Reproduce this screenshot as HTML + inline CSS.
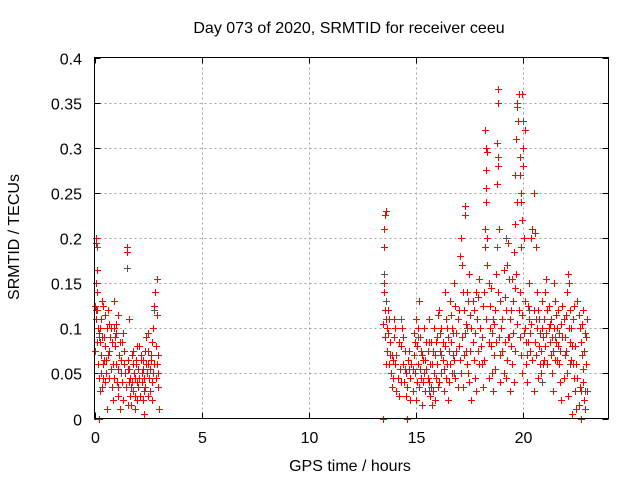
<!DOCTYPE html>
<html><head><meta charset="utf-8"><style>
html,body{margin:0;padding:0;background:#fff}
svg{display:block;font-family:"Liberation Sans",sans-serif}
</style></head><body>
<svg id="chart" width="640" height="480" viewBox="0 0 640 480">
<text x="349" y="33" text-anchor="middle" font-size="16">Day 073 of 2020, SRMTID for receiver ceeu</text>
<text x="0" y="0" transform="translate(19,237) rotate(-90)" text-anchor="middle" font-size="16">SRMTID / TECUs</text>
<text x="350" y="471" text-anchor="middle" font-size="16">GPS time / hours</text>
<g id="grid"></g><g id="axes"></g><g id="grey"></g><g id="red"></g>
<rect x="94.5" y="57.5" width="514" height="361" fill="none" stroke="#000" stroke-width="1"/>
</svg>
<script>
const xTicks=[0,5,10,15,20];
const yTicks=[0,0.05,0.1,0.15,0.2,0.25,0.3,0.35,0.4];
const yTickLabels=["0","0.05","0.1","0.15","0.2","0.25","0.3","0.35","0.4"];
const greyPoints=[[0.1,0.19],[0.05,0.12],[0.2,0.09],[1.5,0.167],[2.8,0.12],[13.5,0.16],[13.6,0.13],[14.3,0.11],[15.1,0.09],[16.2,0.07],[17.4,0.1],[18.25,0.32],[18.8,0.19],[19.2,0.2],[19.7,0.31],[20.0,0.33],[20.0,0.28],[20.3,0.12],[20.9,0.04],[21.5,0.09],[22.2,0.06],[22.9,0.03],[16.8,0.05],[15.6,0.03]];
const redPoints=[[0.05,0.2],[0.08,0.195],[0.1,0.165],[0.05,0.15],[0.1,0.14],[0.03,0.125],[0.12,0.12],[0.07,0.11],[0.15,0.1],[0.02,0.075],[0.2,0.095],[0.25,0.085],[0.3,0.07],[0.35,0.13],[0.4,0.125],[0.3,0.11],[0.45,0.09],[0.5,0.08],[0.38,0.06],[0.42,0.045],[0.5,0.04],[0.3,0.05],[0.25,0.03],[0.55,0.065],[0.6,0.1],[0.65,0.12],[0.7,0.075],[0.75,0.055],[0.8,0.035],[0.85,0.02],[0.9,0.1],[0.95,0.09],[0.7,0.105],[0.8,0.085],[1.0,0.06],[1.05,0.04],[1.1,0.025],[1.2,0.01],[1.15,0.07],[1.25,0.05],[1.3,0.085],[1.35,0.095],[1.4,0.06],[1.45,0.035],[1.5,0.185],[1.52,0.19],[1.55,0.055],[1.6,0.04],[1.65,0.025],[1.7,0.015],[1.75,0.07],[1.8,0.03],[1.85,0.05],[1.9,0.045],[1.95,0.06],[2.0,0.02],[2.05,0.035],[2.1,0.08],[2.15,0.065],[2.2,0.04],[2.25,0.055],[2.3,0.03],[2.35,0.075],[2.4,0.09],[2.45,0.05],[2.5,0.06],[2.55,0.045],[2.6,0.03],[2.65,0.07],[2.7,0.02],[2.75,0.1],[2.8,0.125],[2.82,0.14],[2.85,0.08],[2.9,0.155],[2.92,0.06],[2.95,0.035],[3.0,0.01],[2.98,0.05],[0.9,0.13],[1.0,0.105],[0.6,0.01],[1.9,0.01],[2.3,0.005],[1.6,0.11],[1.1,0.115],[0.5,0.115],[2.5,0.095],[2.7,0.085],[2.9,0.115],[0.2,0.0],
[13.45,0.0],[13.5,0.19],[13.55,0.225],[13.6,0.23],[13.52,0.21],[13.5,0.15],[13.5,0.14],[13.45,0.105],[13.55,0.12],[13.6,0.11],[13.7,0.095],[13.65,0.075],[13.75,0.06],[13.8,0.085],[13.85,0.05],[13.9,0.035],[13.95,0.065],[14.0,0.09],[14.05,0.1],[14.1,0.07],[14.15,0.045],[14.2,0.025],[14.25,0.055],[14.3,0.08],[14.35,0.1],[14.4,0.06],[14.45,0.04],[14.5,0.075],[14.55,0.05],[14.6,0.0],[14.6,0.035],[14.65,0.065],[14.7,0.055],[14.75,0.045],[14.8,0.06],[13.7,0.12],[13.6,0.06],[14.0,0.11],[14.2,0.085],[13.9,0.07],
[14.85,0.03],[14.9,0.07],[14.95,0.05],[15.0,0.02],[15.05,0.08],[15.1,0.06],[15.15,0.035],[15.2,0.09],[15.25,0.045],[15.3,0.015],[15.35,0.065],[15.4,0.1],[15.45,0.03],[15.5,0.055],[15.55,0.075],[15.6,0.04],[15.65,0.025],[15.7,0.085],[15.75,0.06],[15.8,0.03],[15.85,0.1],[15.9,0.07],[15.95,0.045],[16.0,0.09],[16.05,0.115],[16.1,0.12],[16.15,0.075],[16.2,0.1],[16.25,0.085],[16.3,0.055],[16.35,0.14],[16.4,0.11],[16.45,0.06],[16.5,0.09],[16.55,0.04],[16.6,0.13],[16.65,0.115],[16.7,0.1],[16.75,0.07],[16.8,0.15],[16.85,0.125],[16.9,0.095],[16.95,0.11],[17.0,0.08],[15.0,0.11],[15.15,0.13],[15.5,0.085],[15.9,0.02],[16.3,0.03],[16.7,0.05],[14.9,0.095],[15.3,0.07],[15.6,0.11],[16.1,0.04],[16.5,0.02],[15.75,0.015],[16.95,0.035],
[17.05,0.18],[17.1,0.2],[17.15,0.17],[17.2,0.14],[17.25,0.12],[17.3,0.095],[17.35,0.075],[17.4,0.06],[17.1,0.05],[17.2,0.035],[17.45,0.13],[17.5,0.16],[17.55,0.115],[17.6,0.1],[17.65,0.085],[17.7,0.065],[17.75,0.045],[17.8,0.03],[17.6,0.02],[17.85,0.11],[17.9,0.135],[17.95,0.155],[17.3,0.225],[17.32,0.235],[17.5,0.04],[17.7,0.12],
[18.05,0.08],[18.1,0.06],[18.15,0.125],[18.2,0.14],[18.22,0.19],[18.25,0.21],[18.28,0.24],[18.3,0.255],[18.27,0.275],[18.3,0.3],[18.33,0.295],[18.25,0.32],[18.35,0.17],[18.4,0.15],[18.45,0.1],[18.5,0.08],[18.55,0.05],[18.6,0.03],[18.65,0.07],[18.7,0.12],[18.75,0.16],[18.8,0.26],[18.82,0.28],[18.85,0.29],[18.8,0.305],[18.85,0.35],[18.82,0.365],[18.9,0.21],[18.95,0.13],[18.9,0.09],[18.4,0.045],[18.6,0.11],[18.7,0.055],[18.95,0.04],[18.15,0.035],[18.5,0.145],[18.35,0.2],
[19.0,0.1],[19.05,0.075],[19.1,0.05],[19.15,0.135],[19.2,0.12],[19.25,0.17],[19.3,0.195],[19.35,0.155],[19.4,0.11],[19.45,0.08],[19.5,0.06],[19.55,0.13],[19.6,0.185],[19.62,0.215],[19.65,0.27],[19.7,0.31],[19.72,0.345],[19.75,0.35],[19.8,0.36],[19.78,0.33],[19.85,0.29],[19.88,0.27],[19.9,0.25],[19.92,0.24],[19.95,0.22],[19.98,0.36],[20.0,0.3],[20.02,0.28],[20.05,0.2],[19.75,0.24],[19.7,0.16],[19.8,0.12],[19.85,0.09],[19.9,0.07],[19.95,0.05],[19.6,0.04],[19.4,0.03],[19.2,0.045],[19.3,0.09],[19.1,0.165],[19.5,0.155],[19.65,0.145],[19.9,0.19],[20.08,0.32],
[20.1,0.1],[20.15,0.085],[20.2,0.07],[20.25,0.125],[20.3,0.11],[20.35,0.095],[20.4,0.2],[20.45,0.21],[20.5,0.25],[20.55,0.205],[20.6,0.19],[20.65,0.14],[20.7,0.12],[20.75,0.08],[20.8,0.06],[20.85,0.05],[20.9,0.1],[20.95,0.09],[20.2,0.04],[20.5,0.03],[20.7,0.045],[20.3,0.15],[20.6,0.11],[20.9,0.13],[20.45,0.065],[21.0,0.065],
[21.05,0.14],[21.1,0.155],[21.15,0.12],[21.2,0.1],[21.25,0.085],[21.3,0.07],[21.35,0.05],[21.4,0.03],[21.45,0.15],[21.5,0.13],[21.55,0.115],[21.6,0.1],[21.65,0.08],[21.7,0.06],[21.75,0.04],[21.8,0.02],[21.85,0.125],[21.9,0.11],[21.95,0.09],[22.0,0.075],[22.05,0.14],[22.1,0.16],[22.15,0.15],[22.2,0.12],[22.25,0.1],[22.3,0.08],[22.35,0.06],[22.4,0.045],[22.45,0.03],[22.5,0.01],[22.55,0.13],[22.6,0.115],[22.65,0.1],[22.7,0.085],[22.75,0.07],[22.8,0.04],[22.85,0.02],[22.9,0.095],[22.95,0.06],[22.6,0.015],[22.3,0.005],[22.7,0.0],[22.1,0.025],[21.6,0.065],[22.4,0.125],[22.9,0.01],[23.0,0.11],[22.8,0.12],[21.3,0.11],[21.9,0.045]];
const redPointsExtra=[[0.12,0.085],[0.18,0.06],[0.22,0.045],[0.28,0.1],[0.33,0.09],[0.37,0.035],[0.45,0.065],[0.55,0.05],[0.62,0.07],[0.68,0.045],[0.72,0.09],[0.78,0.1],[0.88,0.06],[0.92,0.045],[0.98,0.08],[1.02,0.095],[1.08,0.055],[1.12,0.035],[1.18,0.085],[1.22,0.065],[1.28,0.04],[1.32,0.02],[1.38,0.075],[1.42,0.05],[1.58,0.065],[1.62,0.055],[1.68,0.045],[1.72,0.035],[1.78,0.06],[1.82,0.075],[1.88,0.025],[1.92,0.065],[1.98,0.04],[2.02,0.055],[2.08,0.045],[2.12,0.025],[2.18,0.07],[2.22,0.05],[2.28,0.065],[2.32,0.045],[2.38,0.035],[2.42,0.06],[2.48,0.075],[2.52,0.025],[2.58,0.055],[2.62,0.065],[2.68,0.04],[2.72,0.05],[2.78,0.06],[2.88,0.045],[2.96,0.07],[1.75,0.04],[2.0,0.08],[2.25,0.02],[1.55,0.015],
[13.55,0.09],[13.65,0.1],[13.75,0.11],[13.8,0.07],[13.95,0.045],[14.05,0.06],[14.1,0.03],[14.3,0.04],[14.4,0.09],[14.5,0.055],[14.55,0.025],[14.7,0.075],[14.75,0.02],[14.85,0.055],[14.95,0.085],[15.05,0.04],[15.1,0.1],[15.2,0.055],[15.25,0.075],[15.35,0.04],[15.4,0.05],[15.45,0.065],[15.55,0.045],[15.6,0.085],[15.65,0.06],[15.7,0.035],[15.8,0.075],[15.85,0.05],[15.95,0.085],[16.0,0.06],[16.05,0.035],[16.15,0.095],[16.2,0.05],[16.25,0.065],[16.35,0.08],[16.4,0.045],[16.45,0.1],[16.55,0.075],[16.6,0.06],[16.65,0.085],[16.75,0.095],[16.8,0.065],[16.85,0.045],[16.9,0.075],[17.0,0.12],[17.05,0.065],[17.15,0.09],[17.25,0.07],[17.35,0.105],[17.4,0.14],[17.45,0.05],[17.55,0.075],[17.65,0.13],[17.75,0.095],[17.8,0.14],[17.9,0.075],[17.95,0.06],[18.0,0.1],[18.1,0.09],[18.2,0.065],[18.3,0.11],[18.4,0.085],[18.45,0.125],[18.55,0.095],[18.65,0.105],[18.75,0.085],[18.85,0.14],[18.95,0.07],[19.05,0.11],[19.15,0.085],[19.25,0.065],[19.35,0.09],[19.45,0.12],[19.55,0.095],[19.65,0.075],[19.75,0.105],[19.85,0.14],[19.95,0.115],[20.05,0.095],[20.1,0.13],[20.15,0.06],[20.25,0.085],[20.35,0.075],[20.4,0.105],[20.5,0.12],[20.55,0.085],[20.6,0.07],[20.65,0.1],[20.75,0.11],[20.8,0.095],[20.85,0.075],[20.95,0.06],[21.0,0.11],[21.05,0.08],[21.1,0.095],[21.15,0.06],[21.2,0.125],[21.25,0.105],[21.35,0.09],[21.4,0.075],[21.45,0.1],[21.5,0.065],[21.55,0.085],[21.65,0.12],[21.7,0.095],[21.75,0.075],[21.8,0.105],[21.85,0.09],[21.95,0.07],[22.0,0.115],[22.05,0.05],[22.15,0.1],[22.2,0.085],[22.25,0.065],[22.35,0.11],[22.45,0.08],[22.5,0.06],[22.55,0.045],[22.65,0.035],[22.75,0.105],[22.85,0.075],[22.95,0.09],[23.0,0.03],[22.8,0.055],[22.7,0.03]];

const X0=94.5,X1=608.5,Y0=418.5,Y1=57.5,XMAX=24,YMAX=0.4;
function sx(v){return X0+(X1-X0)*v/XMAX;}
function sy(v){return Y0-(Y0-Y1)*v/YMAX;}
const NS="http://www.w3.org/2000/svg";
function mk(tag,attrs,parent){const e=document.createElementNS(NS,tag);for(const k in attrs)e.setAttribute(k,attrs[k]);parent.appendChild(e);return e;}
const grid=document.getElementById('grid'),axes=document.getElementById('axes');
xTicks.forEach((t,i)=>{
  const x=Math.round(sx(t))+0.5;
  if(t>0){const g=mk('line',{x1:x,x2:x,y1:Y1,y2:Y0,stroke:'#a0a0a0','stroke-dasharray':'2,3'},grid);
  
  }
  const tk=mk('path',{d:`M${x},${Y0}v-6M${x},${Y1}v6`,stroke:'#000'},axes);
  
  
  const lb=mk('text',{x:x,y:443,'text-anchor':'middle','font-size':16},axes);
  lb.textContent=String(t);
  
  
});
yTicks.forEach((t,i)=>{
  const y=Math.round(sy(t))+0.5;
  if(t>0&&t<YMAX){const g=mk('line',{x1:X0,x2:X1,y1:y,y2:y,stroke:'#a0a0a0','stroke-dasharray':'2,3'},grid);
  
  }
  const tk=mk('path',{d:`M${X0},${y}h6M${X1},${y}h-6`,stroke:'#000'},axes);
  
  
  const lb=mk('text',{x:82,y:y+6,'text-anchor':'end','font-size':16},axes);
  lb.textContent=yTickLabels[i];
  
  
});
function drawSeries(pts,gid,color,name){
  const g=document.getElementById(gid);
  let d='';
  pts.forEach(p=>{const x=Math.round(sx(p[0]))+0.5,y=Math.round(sy(p[1]))+0.5;d+=`M${x-3.5},${y}h7M${x},${y-3.5}v7`;});
  const path=mk('path',{d:d,stroke:color,'stroke-width':1,fill:'none'},g);
  
  
}
drawSeries(greyPoints,'grey','#555','grey-points-series');
drawSeries(redPoints,'red','#ff0000','red-points-series');
drawSeries(redPointsExtra,'red','#ff0000','red-points-series-extra');
</script>
</body></html>
